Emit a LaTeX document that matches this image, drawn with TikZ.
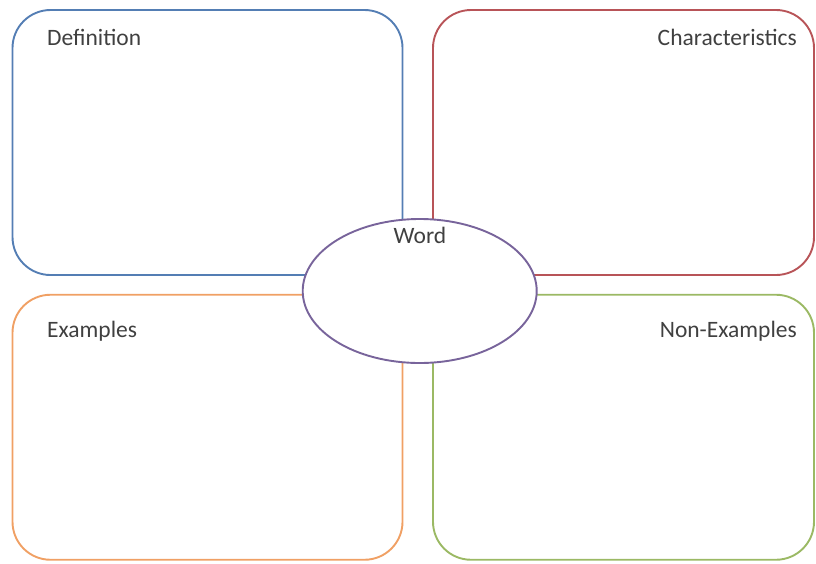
\documentclass[tikz,border=0pt]{standalone}
\usepackage{fontspec}
\setmainfont{Carlito}
\usetikzlibrary{shapes.geometric}
\definecolor{cblue}{RGB}{84,126,180}
\definecolor{cred}{RGB}{184,84,88}
\definecolor{corange}{RGB}{240,160,100}
\definecolor{cgreen}{RGB}{155,185,100}
\definecolor{cpurple}{RGB}{120,100,155}
\definecolor{ctext}{RGB}{64,64,64}
\begin{document}
\begin{tikzpicture}[x=1pt,y=-1pt,
  quad/.style={draw, line width=1.9pt, rounded corners=38pt, inner sep=0pt, minimum width=390pt, minimum height=265pt},
  lbl/.style={font=\fontsize{23.5}{26}\selectfont, text=ctext, inner sep=0pt},
  wordnode/.style={draw=cpurple, fill=white, line width=1.9pt, ellipse, minimum width=234pt, minimum height=144pt, inner sep=0pt}]
\useasboundingbox (0,0) rectangle (816,563);
\node[quad, draw=cblue] (def) at (207.5,142.5) {};
\node[quad, draw=cred, minimum width=381pt] (cha) at (623.5,142.5) {};
\node[quad, draw=corange] (exa) at (207.5,427.25) {};
\node[quad, draw=cgreen, minimum width=381pt] (non) at (623.5,427.25) {};
\node[wordnode] (word) at (419.7,291) {};
\node[lbl, anchor=base west] (tdef) at (47,45) {Definition};
\node[lbl, anchor=base east] (tcha) at (797,45) {Characteristics};
\node[lbl, anchor=base west] (texa) at (47,337) {Examples};
\node[lbl, anchor=base east] (tnon) at (797,337) {Non-Examples};
\node[lbl, anchor=base] (tword) at (420,243) {Word};
\end{tikzpicture}
\end{document}
